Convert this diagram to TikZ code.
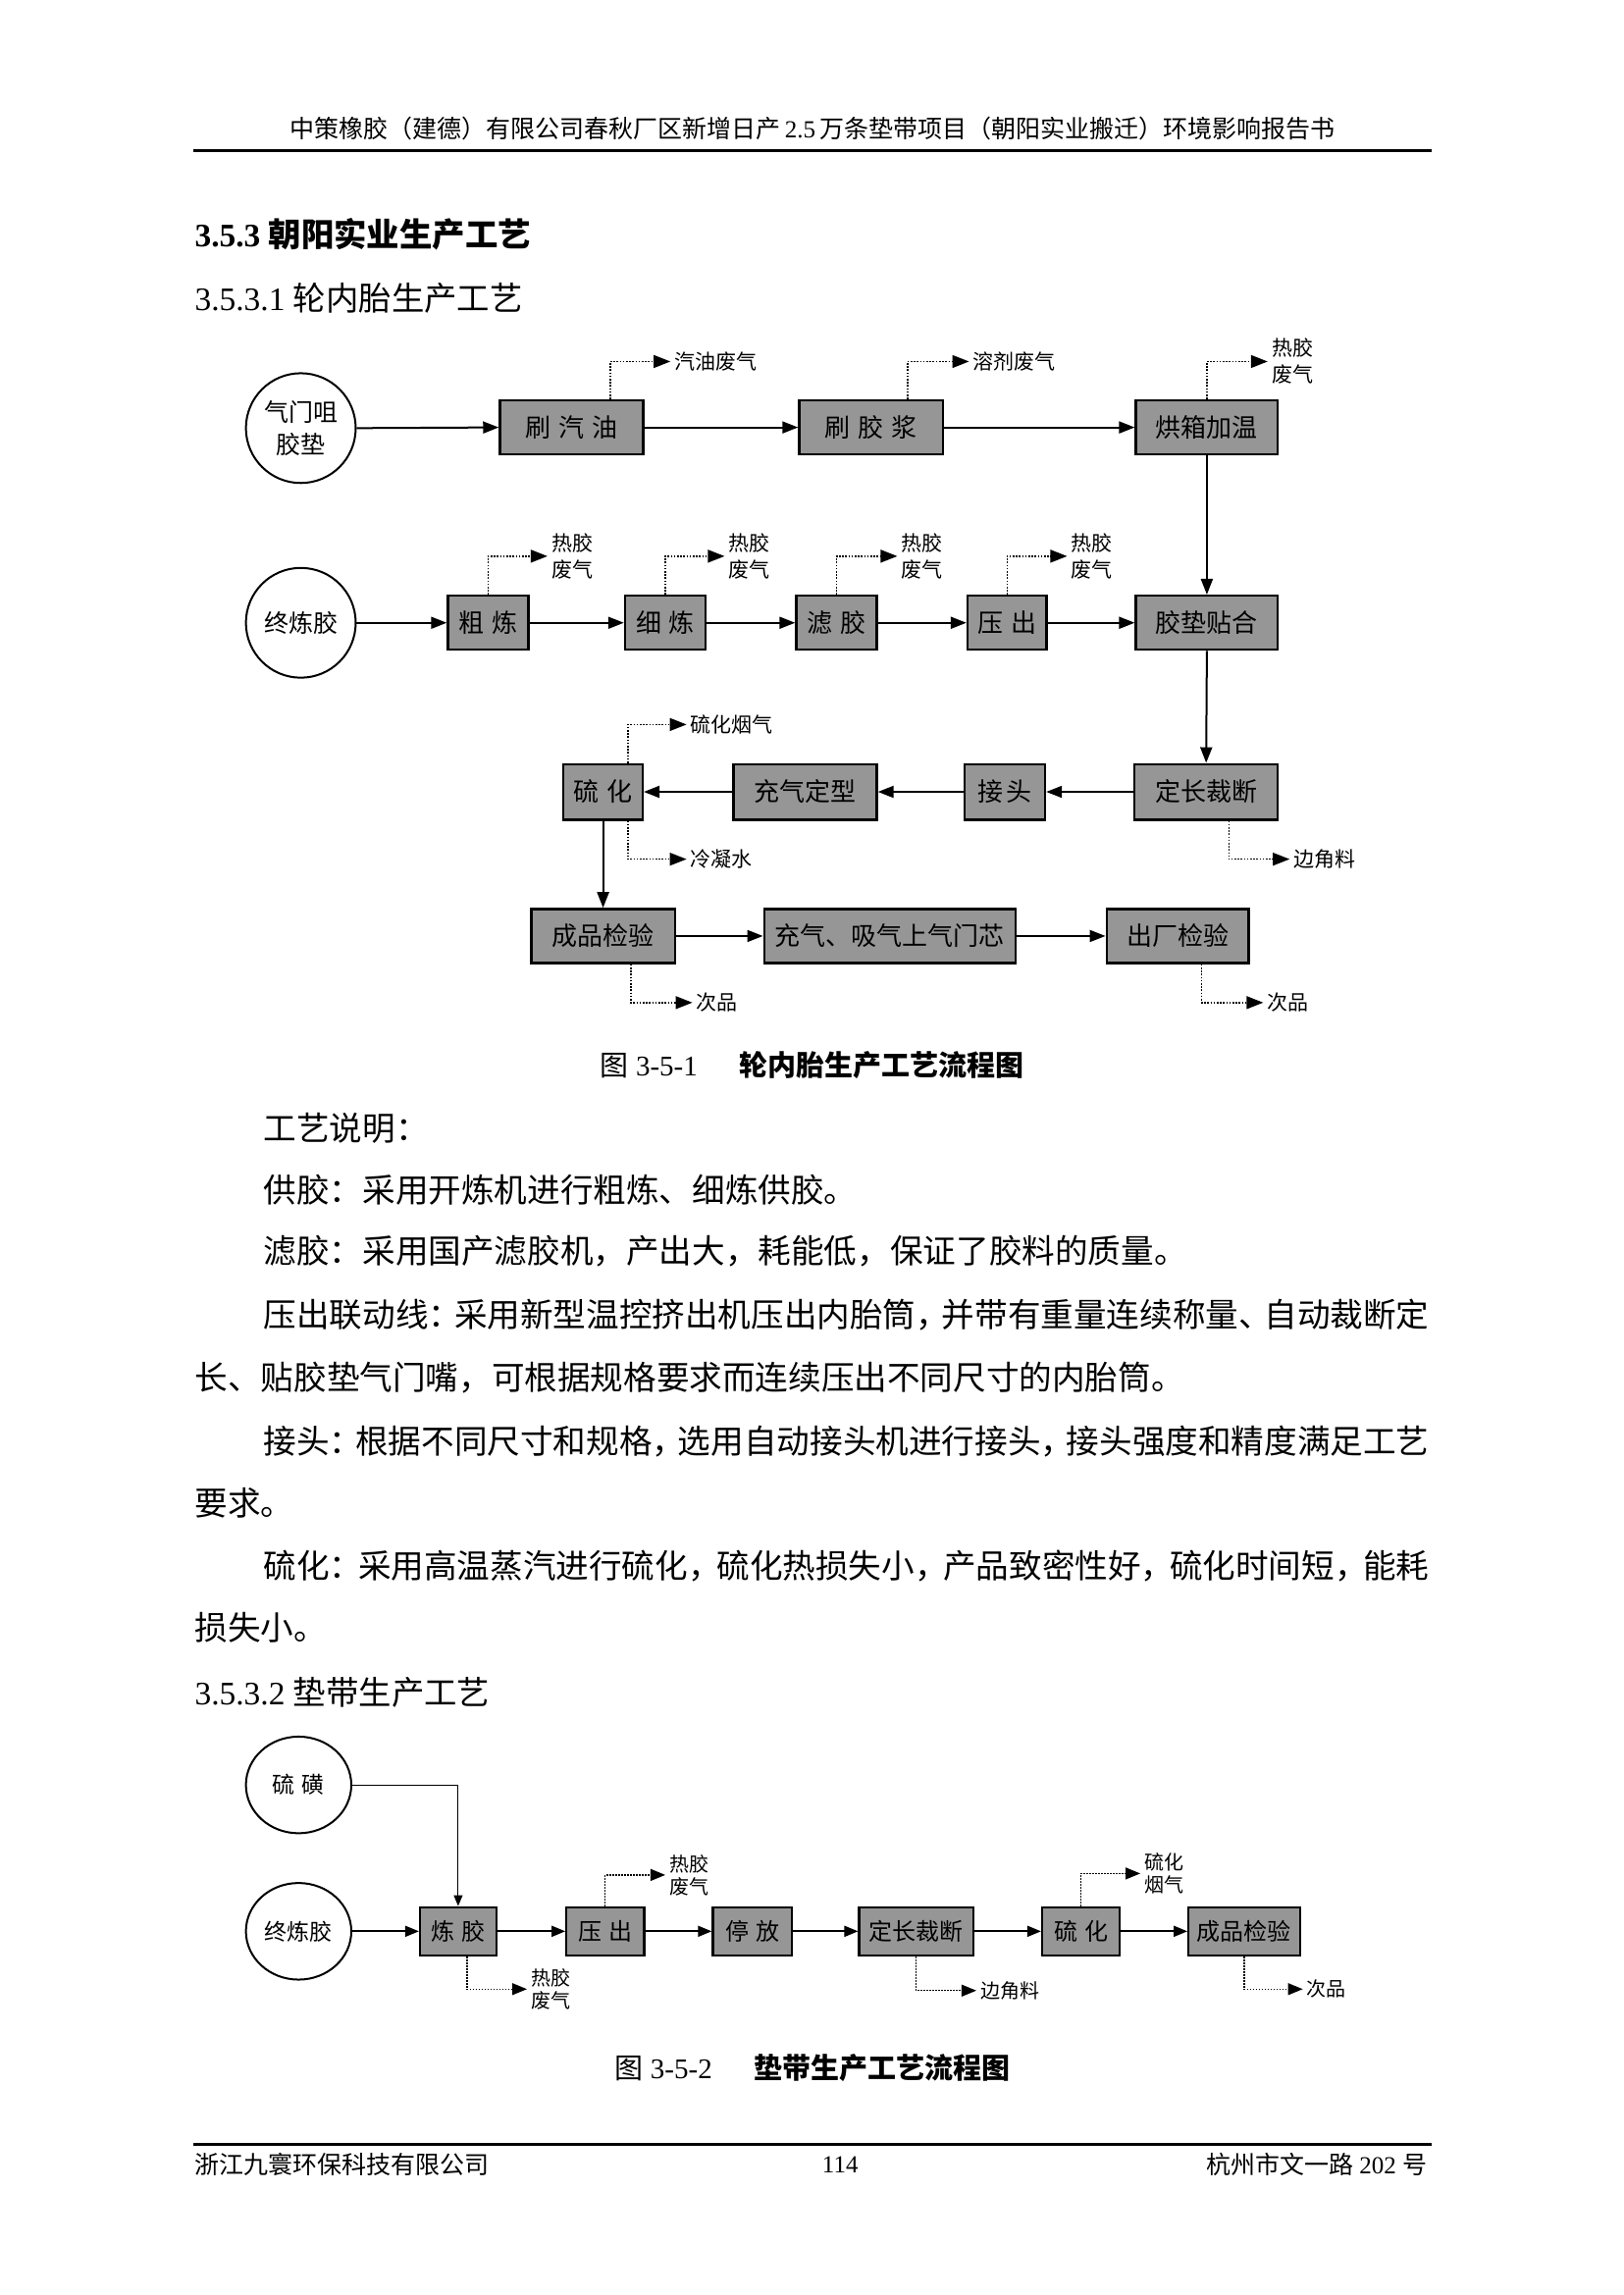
\documentclass[tikz,border=0pt]{standalone}
\usepackage{fontspec}
\setmainfont{Liberation Serif}
\newfontfamily\cjk{Noto Sans CJK SC}
\usetikzlibrary{arrows.meta,shapes.geometric,calc}
\definecolor{boxgray}{RGB}{150,150,150}
\newcommand\zh[1]{{\cjk #1}}
\newcommand\sz[1]{\fontsize{#1}{#1}\selectfont}
\newcommand\qa{\kern-7.3pt}
\newcommand\qb{\kern-4.4pt}
\begin{document}
\begin{tikzpicture}[x=1.4915pt,y=-1.4915pt,
  pbox/.style={draw=black, line width=2.3pt, fill=boxgray, inner sep=0pt, align=center},
  wh/.style 2 args={pbox, minimum width=#1*1.4915pt, minimum height=#2*1.4915pt},
  fa/.style={font=\cjk\fontsize{26}{30}\selectfont},
  fb/.style={font=\cjk\fontsize{24}{28}\selectfont},
  circ/.style={draw=black, ellipse, line width=2pt, inner sep=0pt, align=center},
  flow/.style={line width=2pt, -{Triangle[length=16pt,width=12pt]}},
  flowb/.style={line width=1.9pt, -{Triangle[length=14pt,width=11pt]}},
  thinflow/.style={line width=1.1pt, -{Triangle[length=11pt,width=9pt]}},
  emis/.style={line width=1.4pt, dash pattern=on 1.6pt off 1.6pt, -{Triangle[length=17pt,width=13pt]}},
  emisb/.style={line width=1.3pt, dash pattern=on 1.5pt off 1.5pt, -{Triangle[length=15pt,width=12pt]}},
  lab/.style={anchor=west, inner xsep=4pt, inner ysep=0pt, align=left, font=\cjk\fontsize{21}{27}\selectfont},
  labb/.style={anchor=west, inner xsep=4pt, inner ysep=0pt, align=left, font=\cjk\fontsize{20}{23}\selectfont},
  body/.style={anchor=west, inner sep=0pt, font=\cjk\fontsize{33.6}{40}\selectfont},
]
\useasboundingbox[fill=white] (0,0) rectangle (1109,1568);

% ---------- header ----------
\node[inner sep=0pt, font=\sz{25}] (hdr) at (555,88) {\zh{中策橡胶（建德）有限公司春秋厂区新增日产}\,2.5\,\zh{万条垫带项目（朝阳实业搬迁）环境影响报告书}};
\draw[line width=2.8pt] (132,103) -- (978,103);

\node[anchor=west, inner sep=0pt, font=\sz{33.4}] (h1) at (133,160) {\textbf{3.5.3 }\zh{\bfseries 朝阳实业生产工艺}};
\node[anchor=west, inner sep=0pt, font=\sz{33.4}] (h2) at (133,204) {3.5.3.1 \zh{轮内胎生产工艺}};

% ---------- diagram 1 ----------
\node[circ, fa, minimum width=75*1.4915pt, minimum height=75*1.4915pt, font=\cjk\fontsize{25}{33}\selectfont] (c1) at (205.5,292.5) {气门咀\\胶垫};
\node[wh={98}{37}, fa] (b1) at (390.5,292) {刷\hspace{.3em}汽\hspace{.3em}油};
\node[wh={98}{37}, fa] (b2) at (595,292) {刷\hspace{.3em}胶\hspace{.3em}浆};
\node[wh={97}{37}, fa] (b3) at (824.5,292) {烘箱加温};

\node[circ, minimum width=75*1.4915pt, minimum height=75*1.4915pt, font=\cjk\fontsize{25}{33}\selectfont] (c2) at (205.5,425.5) {终炼胶};
\node[wh={55}{37}, fa] (b4) at (333.5,425.5) {粗\hspace{.3em}炼};
\node[wh={55}{37}, fa] (b5) at (454.5,425.5) {细\hspace{.3em}炼};
\node[wh={55}{37}, fa] (b6) at (571.5,425.5) {滤\hspace{.3em}胶};
\node[wh={54}{37}, fa] (b7) at (688,425.5) {压\hspace{.3em}出};
\node[wh={97}{37}, fa] (b8) at (824.5,425.5) {胶垫贴合};

\node[wh={98}{38}, fa] (b9) at (824,541) {定长裁断};
\node[wh={55}{38}, fa] (b10) at (686.5,541) {接\hspace{.15em}头};
\node[wh={98}{38}, fa] (b11) at (550,541) {充气定型};
\node[wh={54}{38}, fa] (b12) at (412,541) {硫\hspace{.3em}化};

\node[wh={98}{37}, fa] (b13) at (412,639.5) {成品检验};
\node[wh={172}{37}, fa] (b14) at (608,639.5) {充气、吸气上气门芯};
\node[wh={97}{37}, fa] (b15) at (804.5,639.5) {出厂检验};

\draw[flow] (c1.east) -- (b1.west);
\draw[flow] (b1.east) -- (b2.west);
\draw[flow] (b2.east) -- (b3.west);
\draw[flow] (c2.east) -- (b4.west);
\draw[flow] (b4.east) -- (b5.west);
\draw[flow] (b5.east) -- (b6.west);
\draw[flow] (b6.east) -- (b7.west);
\draw[flow] (b7.east) -- (b8.west);
\draw[flow] (b3.south) -- (b8.north);
\draw[flow] (b8.south) -- (b9.north);
\draw[flow] (b9.west) -- (b10.east);
\draw[flow] (b10.west) -- (b11.east);
\draw[flow] (b11.west) -- (b12.east);
\draw[flow] (b12.south) -- (b13.north);
\draw[flow] (b13.east) -- (b14.west);
\draw[flow] (b14.east) -- (b15.west);

% emissions diagram 1
\node[lab] (l1) at (458,247) {汽油废气};
\node[lab] (l2) at (662,247) {溶剂废气};
\node[lab] (l3) at (866,247) {热胶\\废气};
\draw[emis] ($(b1.north)+(26.5,0)$) |- (l1.west);
\draw[emis] ($(b2.north)+(25,0)$) |- (l2.west);
\draw[emis] (b3.north) |- (l3.west);

\node[lab] (l4) at (374,380) {热胶\\废气};
\node[lab] (l5) at (495,380) {热胶\\废气};
\node[lab] (l6) at (613,380) {热胶\\废气};
\node[lab] (l7) at (729,380) {热胶\\废气};
\draw[emis] (b4.north) |- (l4.west);
\draw[emis] (b5.north) |- (l5.west);
\draw[emis] (b6.north) |- (l6.west);
\draw[emis] (b7.north) |- (l7.west);

\node[lab] (l8) at (469,495) {硫化烟气};
\node[lab] (l9) at (469,587) {冷凝水};
\node[lab] (l10) at (881,587) {边角料};
\draw[emis] ($(b12.north)+(17,0)$) |- (l8.west);
\draw[emis] ($(b12.south)+(17,0)$) |- (l9.west);
\draw[emis] ($(b9.south)+(15.5,0)$) |- (l10.west);

\node[lab] (l11) at (473,685) {次品};
\node[lab] (l12) at (863,685) {次品};
\draw[emis] ($(b13.south)+(19,0)$) |- (l11.west);
\draw[emis] ($(b15.south)+(16.5,0)$) |- (l12.west);

% caption 1
\node[anchor=west, inner sep=0pt, font=\sz{29}] (cap1a) at (410,728) {\zh{图} 3-5-1};
\node[anchor=west, inner sep=0pt, font=\sz{29}] (cap1b) at (505,728) {\zh{\bfseries 轮内胎生产工艺流程图}};

% ---------- body text ----------
\node[body] (t1) at (180,771) {工艺说明：};
\node[body] (t2) at (180,813) {供胶：采用开炼机进行粗炼、细炼供胶。};
\node[body] (t3) at (180,855) {滤胶：采用国产滤胶机，产出大，耗能低，保证了胶料的质量。};
\node[body] (t4) at (180,898) {压出联动线：\qa 采用新型温控挤出机压出内胎筒，\qa 并带有重量连续称量、\qa 自动裁断定};
\node[body] (t5) at (133,941) {长、贴胶垫气门嘴，可根据规格要求而连续压出不同尺寸的内胎筒。};
\node[body] (t6) at (180,985) {接头：\qa 根据不同尺寸和规格，\qa 选用自动接头机进行接头，\qa 接头强度和精度满足工艺};
\node[body] (t7) at (133,1027) {要求。};
\node[body] (t8) at (180,1070) {硫化：\qb 采用高温蒸汽进行硫化，\qb 硫化热损失小，\qb 产品致密性好，\qb 硫化时间短，\qb 能耗};
\node[body] (t9) at (133,1112) {损失小。};
\node[anchor=west, inner sep=0pt, font=\sz{33.4}] (h3) at (133,1156) {3.5.3.2 \zh{垫带生产工艺}};

% ---------- diagram 2 ----------
\node[circ, minimum width=72*1.4915pt, minimum height=66*1.4915pt, font=\cjk\fontsize{23}{28}\selectfont] (s1) at (204,1219.5) {硫\hspace{.3em}磺};
\node[circ, minimum width=72*1.4915pt, minimum height=66*1.4915pt, font=\cjk\fontsize{23}{28}\selectfont] (s2) at (204,1319.5) {终炼胶};
\node[wh={52}{33}, fb] (d1) at (313,1319.5) {炼\hspace{.3em}胶};
\node[wh={53}{33}, fb] (d2) at (413.5,1319.5) {压\hspace{.3em}出};
\node[wh={54}{33}, fb] (d3) at (514,1319.5) {停\hspace{.3em}放};
\node[wh={78}{33}, fb] (d4) at (626,1319.5) {定长裁断};
\node[wh={53}{33}, fb] (d5) at (738.5,1319.5) {硫\hspace{.3em}化};
\node[wh={76}{33}, fb] (d6) at (850,1319.5) {成品检验};

\draw[flowb] (s2.east) -- (d1.west);
\draw[flowb] (d1.east) -- (d2.west);
\draw[flowb] (d2.east) -- (d3.west);
\draw[flowb] (d3.east) -- (d4.west);
\draw[flowb] (d4.east) -- (d5.west);
\draw[flowb] (d5.east) -- (d6.west);
\draw[thinflow] (s1.east) -| (d1.north);

\node[labb] (m1) at (360,1359) {热胶\\废气};
\node[labb] (m2) at (454.5,1281) {热胶\\废气};
\node[labb] (m3) at (667,1360) {边角料};
\node[labb] (m4) at (779,1280) {硫化\\烟气};
\node[labb] (m5) at (890,1359) {次品};
\draw[emisb] ($(d1.south)+(6,0)$) |- (m1.west);
\draw[emisb] (d2.north) |- (m2.west);
\draw[emisb] (d4.south) |- (m3.west);
\draw[emisb] (d5.north) |- (m4.west);
\draw[emisb] (d6.south) |- (m5.west);

% caption 2
\node[anchor=west, inner sep=0pt, font=\sz{29}] (cap2a) at (420,1413) {\zh{图} 3-5-2};
\node[anchor=west, inner sep=0pt, font=\sz{29}] (cap2b) at (515,1413) {\zh{\bfseries 垫带生产工艺流程图}};

% ---------- footer ----------
\draw[line width=2.3pt] (132,1465) -- (978,1465);
\node[anchor=west, inner sep=0pt, font=\sz{25}] (f1) at (133,1479) {\zh{浙江九寰环保科技有限公司}};
\node[inner sep=0pt, font=\sz{25}] (f2) at (574,1479) {114};
\node[anchor=east, inner sep=0pt, font=\sz{25}] (f3) at (975,1479) {\zh{杭州市文一路} 202 \zh{号}};
\end{tikzpicture}
\end{document}
